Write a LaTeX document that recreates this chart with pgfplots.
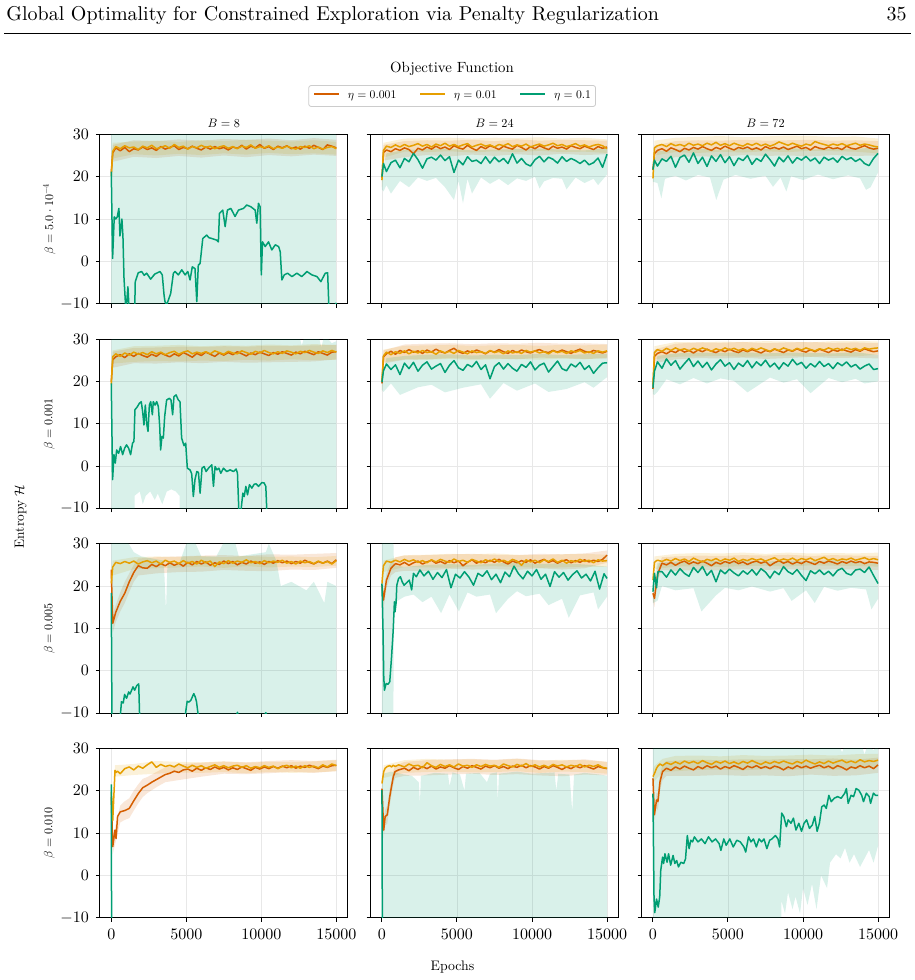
\RequirePackage{fix-cm}
\documentclass[border=0pt]{standalone}
\DeclareFontShape{OT1}{cmr}{m}{n}{<->cmr10}{}
\DeclareFontShape{OML}{cmm}{m}{it}{<->cmmi10}{}
\DeclareFontShape{OMS}{cmsy}{m}{n}{<->cmsy10}{}
\usepackage{pgfplots}
\usepackage{pgfplotstable}
\pgfplotsset{compat=1.18}
\definecolor{cO}{HTML}{D55E00}
\definecolor{cY}{HTML}{E69F00}
\definecolor{cG}{HTML}{009E73}
\pgfplotsset{
 panel/.style={
  scale only axis, width=123.8pt, height=84.7pt, anchor=north west,
  xmin=-750, xmax=15750, ymin=-10, ymax=30,
  xtick={0,5000,10000,15000}, ytick={-10,0,10,20,30},
  xmajorgrids, ymajorgrids,
  major grid style={black!9, line width=0.4pt},
  tick align=outside, tick pos=left, major tick length=2pt,
  axis line style={line width=0.5pt},
  major tick style={black, line width=0.5pt},
  tick label style={font=\fontsize{8}{9}\selectfont},
  xticklabel style={/pgf/number format/1000 sep={}},
  scaled x ticks=false, scaled y ticks=false,
 },
 nox/.style={xticklabels={}},
 noy/.style={yticklabels={}},
 ln/.style={forget plot, line width=0.75pt, line join=round},
 bd/.style={forget plot, draw=none, fill opacity=0.15},
}

% ---------- data: x, o = eta 0.001, y = eta 0.01, g = eta 0.1 ----------
\pgfplotstableread{
x o y
0 21.0 20.2
100 25.6 26.0
300 26.8 27.1
600 26.1 26.6
900 26.9 27.3
1200 25.9 26.8
1500 26.6 27.0
1800 26.3 26.4
2100 27.0 27.2
2400 26.4 26.8
2700 26.8 27.4
3000 26.2 26.6
3300 27.1 26.9
3600 26.5 27.3
3900 26.9 26.7
4200 27.3 27.6
4500 26.4 26.9
4800 26.9 27.2
5100 26.6 26.5
5400 27.2 27.1
5700 26.7 26.8
6000 26.3 27.4
6300 27.0 26.9
6600 26.5 27.2
6900 27.1 26.6
7200 26.6 27.0
7500 26.9 27.3
7800 26.3 26.7
8100 27.0 27.1
8400 26.7 26.6
8700 27.4 27.2
9000 26.5 26.9
9300 27.2 27.5
9600 26.8 26.7
9900 27.6 27.1
10200 26.7 26.8
10500 27.1 27.3
10800 26.4 26.6
11100 27.2 27.0
11400 26.8 26.7
11700 27.3 27.2
12000 26.6 26.8
12300 27.0 26.5
12600 26.5 27.1
12900 27.2 26.9
13200 26.7 27.3
13500 27.4 26.6
13800 26.9 27.0
14100 26.4 26.5
14400 27.5 26.9
14700 27.2 27.1
15000 26.8 26.6
}\tA
\pgfplotstableread{
x o y g
0 19.6 19.2 20.0
100 25.7 26.2 23.1
300 26.3 27.2 21.2
600 25.9 26.9 23.3
900 26.6 27.5 23.9
1200 26.2 27.0 22.1
1500 26.8 27.6 24.3
1800 26.4 27.1 23.5
2100 25.4 27.4 25.5
2400 26.7 27.8 24.0
2700 26.3 27.2 22.0
3000 27.0 27.6 24.2
3300 26.5 27.0 24.6
3600 27.2 27.7 23.9
3900 26.6 27.3 25.1
4200 27.0 27.9 23.8
4500 26.4 27.2 24.7
4800 27.3 27.6 21.0
5100 26.8 27.1 23.9
5400 26.5 27.5 22.8
5700 27.4 27.8 24.7
6000 26.7 27.0 23.6
6300 26.2 27.4 23.9
6600 27.1 27.7 23.1
6900 26.6 27.2 24.7
7200 27.3 27.5 23.2
7500 26.9 27.0 24.6
7800 26.4 27.6 23.5
8100 27.2 27.3 24.3
8400 26.8 27.8 23.1
8700 26.5 27.1 25.4
9000 27.4 27.5 23.2
9300 26.9 27.2 24.3
9600 26.3 27.7 23.0
9900 27.1 27.0 22.5
10200 26.6 27.4 24.0
10500 27.3 27.7 24.8
10800 26.8 27.2 23.5
11100 26.4 27.5 24.6
11400 27.2 27.9 24.1
11700 26.7 27.3 23.2
12000 27.0 27.6 24.7
12300 26.5 27.1 23.6
12600 27.3 27.4 24.3
12900 26.9 27.8 23.8
13200 26.6 27.2 23.1
13500 27.2 27.5 23.9
13800 26.8 27.0 22.8
14100 26.4 27.4 23.3
14400 27.1 27.6 24.4
14700 26.7 27.3 22.2
15000 27.0 26.6 25.3
}\tB
\pgfplotstableread{
x o y g
0 21.6 19.6 21.7
100 25.4 26.8 23.9
300 26.2 27.3 22.5
600 26.6 27.6 24.2
900 26.0 27.1 23.6
1200 26.8 27.8 24.8
1500 26.4 27.3 22.2
1800 25.9 27.6 24.5
2100 26.7 27.2 25.1
2400 26.3 27.9 23.4
2700 26.9 27.4 25.6
3000 26.5 27.7 23.1
3300 27.1 27.3 24.6
3600 26.6 27.9 22.4
3900 26.2 27.5 24.9
4200 26.9 28.1 23.6
4500 26.5 27.4 25.2
4800 27.2 27.8 23.3
5100 26.7 27.3 24.7
5400 26.3 27.9 22.6
5700 26.9 27.5 24.4
6000 26.6 27.2 23.8
6300 27.0 27.8 25.0
6600 26.4 27.4 22.9
6900 26.8 27.9 24.3
7200 26.3 27.3 23.6
7500 27.1 27.7 25.3
7800 26.6 27.2 24.0
8100 26.9 27.6 22.5
8400 26.5 28.2 24.6
8700 27.0 27.8 23.5
9000 26.4 27.4 24.9
9300 26.8 27.9 23.2
9600 27.2 27.5 24.5
9900 26.6 27.2 23.9
10200 26.9 27.7 24.8
10500 26.3 27.4 23.7
10800 27.1 28.3 24.4
11100 26.7 27.9 23.1
11400 26.5 27.6 24.6
11700 27.0 27.3 23.9
12000 26.6 27.7 24.4
12300 26.8 27.4 23.4
12600 26.4 27.8 24.8
12900 27.2 27.3 24.0
13200 26.7 27.6 24.5
13500 26.5 27.9 23.6
13800 26.9 27.4 24.2
14100 27.3 27.7 23.1
14400 26.8 27.5 22.6
14700 26.5 27.2 24.3
15000 26.7 27.0 25.5
}\tC
\pgfplotstableread{
x o y
0 19.8 19.3
100 25.1 25.8
300 25.8 26.5
600 26.3 25.9
900 25.6 26.7
1200 26.5 26.2
1500 25.9 26.9
1800 26.6 26.4
2100 26.1 26.8
2400 25.7 26.3
2700 26.4 27.0
3000 25.9 26.5
3300 26.7 26.9
3600 26.2 26.3
3900 25.8 26.8
4200 26.5 27.1
4500 26.0 26.4
4800 26.8 26.9
5100 26.3 27.2
5400 25.7 26.5
5700 26.6 26.9
6000 26.1 26.6
6300 26.9 27.0
6600 26.4 26.5
6900 25.9 27.2
7200 26.7 26.8
7500 26.2 26.4
7800 26.8 27.1
8100 26.3 26.7
8400 27.0 26.5
8700 26.5 27.2
9000 26.0 26.8
9300 26.7 26.4
9600 26.3 27.1
9900 26.9 26.7
10200 26.5 27.3
10500 26.1 26.8
10800 26.8 26.5
11100 26.4 27.0
11400 27.0 26.6
11700 26.6 27.2
12000 26.2 26.9
12300 26.9 26.5
12600 26.5 27.1
12900 27.1 26.8
13200 26.7 27.3
13500 26.3 26.9
13800 27.0 26.6
14100 26.6 27.2
14400 26.2 26.8
14700 26.9 27.3
15000 27.0 26.9
}\tD
\pgfplotstableread{
x o y g
0 19.5 20.1 19.8
100 25.8 26.0 22.5
300 26.5 26.9 24.1
600 27.1 26.3 22.8
900 26.4 27.0 23.9
1200 27.3 26.6 21.6
1500 26.8 27.2 24.3
1800 27.5 26.5 23.0
2100 26.9 27.1 24.5
2400 27.2 26.7 22.4
2700 26.6 27.3 23.8
3000 27.4 26.8 24.6
3300 26.9 27.0 22.9
3600 27.6 26.4 23.6
3900 27.0 27.2 24.2
4200 26.7 26.7 22.1
4500 27.3 27.1 23.8
4800 27.8 26.6 24.9
5100 27.0 27.3 23.2
5400 26.6 26.9 22.6
5700 27.2 26.5 24.0
6000 26.8 27.2 23.4
6300 27.4 26.8 24.7
6600 27.0 27.0 22.8
6900 26.5 26.6 23.9
7200 27.2 27.3 20.6
7500 26.9 26.8 23.5
7800 27.5 27.1 24.4
8100 27.0 26.5 22.9
8400 26.6 27.2 24.2
8700 27.3 26.7 23.1
9000 26.8 27.0 22.4
9300 27.4 26.6 24.0
9600 27.0 27.3 23.3
9900 26.7 26.9 24.6
10200 27.2 27.2 22.7
10500 27.5 26.7 23.8
10800 27.0 27.0 24.3
11100 26.8 26.5 22.2
11400 27.3 27.2 23.5
11700 26.9 26.8 24.8
12000 27.4 27.1 23.0
12300 27.0 26.6 22.5
12600 26.6 27.2 24.1
12900 27.2 26.9 23.4
13200 27.6 27.3 24.5
13500 27.1 26.7 22.8
13800 26.8 27.0 23.7
14100 27.3 26.6 21.9
14400 27.0 27.2 23.2
14700 26.7 26.9 24.3
15000 27.1 27.2 24.4
}\tE
\pgfplotstableread{
x o y g
0 18.2 19.4 18.5
100 25.9 26.8 22.4
300 26.6 27.5 24.6
600 27.0 27.1 23.1
900 26.5 27.8 25.3
1200 27.2 27.3 23.8
1500 26.8 27.9 24.9
1800 27.5 27.4 22.9
2100 26.9 27.7 24.2
2400 27.3 27.2 25.4
2700 26.7 27.8 23.5
3000 27.4 27.4 24.8
3300 27.0 27.9 23.3
3600 27.6 27.5 24.5
3900 27.1 27.1 22.7
4200 26.8 27.7 24.1
4500 27.4 27.3 25.1
4800 27.0 27.9 23.6
5100 27.6 27.4 24.4
5400 27.1 27.8 22.8
5700 26.8 27.3 24.3
6000 27.4 27.7 23.5
6300 27.0 27.2 24.9
6600 27.5 27.8 23.2
6900 27.1 27.4 24.6
7200 26.7 27.9 23.7
7500 27.3 27.5 25.0
7800 27.0 27.1 23.4
8100 27.6 27.7 24.3
8400 27.2 27.3 22.9
8700 26.8 27.9 24.4
9000 27.4 27.5 23.6
9300 27.1 27.2 25.2
9600 27.7 27.8 23.9
9900 27.2 27.4 24.5
10200 26.9 27.9 23.1
10500 27.5 27.5 24.2
10800 27.0 27.2 23.4
11100 27.6 27.7 24.7
11400 27.2 27.4 23.5
11700 26.8 27.9 24.2
12000 27.4 27.5 23.0
12300 27.1 27.8 24.4
12600 27.6 27.3 23.7
12900 27.2 27.9 24.6
13200 26.9 27.5 23.4
13500 27.5 27.8 24.0
13800 27.1 27.3 22.9
14100 27.7 27.9 23.6
14400 27.3 27.6 24.1
14700 27.0 27.8 22.8
15000 27.2 27.9 23.0
}\tF
\pgfplotstableread{
x o y
0 23.9 20.6
100 11.2 24.5
300 13.8 25.6
600 16.4 25.3
900 18.3 25.8
1200 21.0 25.4
1500 23.2 25.9
1800 24.8 25.2
2100 24.3 25.7
2400 24.2 26.0
2700 25.1 25.5
3000 24.6 25.9
3300 25.3 25.2
3600 24.8 26.1
3900 25.5 25.6
4200 24.9 25.9
4500 25.4 25.3
4800 24.7 26.0
5100 25.6 25.4
5400 25.0 25.8
5700 25.8 25.2
6000 25.2 26.1
6300 25.7 25.5
6600 24.9 25.9
6900 25.5 24.6
7200 25.1 25.7
7500 25.9 25.3
7800 25.3 26.0
8100 25.8 25.4
8400 25.0 25.9
8700 25.6 25.6
9000 25.2 26.2
9300 25.9 25.5
9600 25.4 25.8
9900 25.7 25.3
10200 25.1 26.0
10500 25.8 25.5
10800 25.4 25.9
11100 26.0 25.6
11400 25.5 26.1
11700 25.9 25.4
12000 25.3 25.8
12300 25.8 25.2
12600 25.4 25.9
12900 26.1 25.5
13200 25.6 25.8
13500 25.2 25.3
13800 25.8 25.9
14100 25.4 25.4
14400 25.9 25.8
14700 25.3 25.2
15000 26.2 26.0
}\tG
\pgfplotstableread{
x o y
0 20.2 20.6
100 16.7 24.8
300 21.4 25.9
600 24.2 25.6
900 25.3 26.1
1200 25.0 25.7
1500 25.6 26.3
1800 24.9 25.8
2100 25.5 26.2
2400 25.9 25.6
2700 25.2 26.0
3000 25.7 25.5
3300 26.1 26.2
3600 25.4 25.7
3900 25.8 26.3
4200 25.3 25.9
4500 26.0 25.6
4800 25.5 26.4
5100 25.9 25.8
5400 24.8 26.1
5700 25.6 25.6
6000 26.2 26.3
6300 25.4 25.9
6600 25.9 25.5
6900 25.5 26.2
7200 26.1 25.8
7500 25.6 26.4
7800 26.3 25.7
8100 25.7 26.1
8400 25.2 25.6
8700 25.9 26.3
9000 25.5 25.9
9300 26.0 24.9
9600 25.6 26.2
9900 26.2 25.7
10200 25.4 26.1
10500 25.9 25.5
10800 26.3 26.2
11100 25.6 25.8
11400 26.0 26.4
11700 25.4 25.6
12000 25.9 26.1
12300 26.2 25.4
12600 25.5 26.0
12900 26.0 25.7
13200 25.6 26.3
13500 26.2 25.8
13800 25.7 26.1
14100 26.1 25.5
14400 25.8 26.2
14700 26.3 25.9
15000 27.3 26.0
}\tH
\pgfplotstableread{
x o y g
0 18.3 21.4 18.7
100 17.1 25.6 23.0
240 21.0 26.0 19.6
330 23.0 26.1 23.4
600 25.4 25.8 23.4
900 25.0 26.3 22.1
1200 25.6 25.9 23.8
1500 24.9 26.5 22.6
1800 25.5 26.0 24.1
2100 25.9 26.4 23.0
2400 25.2 25.8 22.3
2700 25.7 26.6 24.4
3000 25.3 26.1 23.2
3300 25.9 25.7 24.6
3600 25.4 26.3 22.5
3900 24.8 26.0 23.7
4200 25.6 26.5 21.0
4500 25.2 25.9 23.8
4800 25.8 26.4 22.9
5100 25.4 26.1 24.0
5400 25.9 26.6 23.1
5700 25.3 25.8 22.4
6000 25.7 26.3 23.6
6300 25.1 26.0 22.8
6600 25.6 26.5 23.9
6900 25.9 26.1 22.6
7200 25.4 26.4 24.1
7500 25.8 25.9 23.3
7800 24.8 26.3 21.9
8100 25.5 26.7 23.5
8400 26.0 26.0 22.7
8700 25.4 26.4 24.6
9000 25.8 26.1 23.4
9300 25.2 26.6 22.8
9600 25.7 26.0 23.9
9900 25.3 26.5 22.5
10200 25.9 26.2 21.3
10500 25.5 26.6 23.6
10800 25.1 26.0 22.9
11100 25.8 26.4 23.8
11400 25.4 26.8 22.7
11700 25.9 26.1 23.5
12000 25.6 26.5 22.4
12300 25.2 26.0 23.7
12600 25.8 26.4 24.2
12900 25.4 26.2 23.0
13200 25.9 26.6 22.6
13500 25.5 26.1 23.8
13800 25.8 26.4 24.0
14100 25.3 26.7 23.2
14400 25.7 26.2 24.5
14700 25.6 26.5 22.5
15000 25.4 26.2 20.6
}\tI
\pgfplotstableread{
x o y
0 18.6 19.8
100 6.8 13.0
250 10.7 24.8
320 8.7 24.3
420 13.9 24.6
600 15.0 24.0
900 15.3 25.2
1200 15.8 25.6
1500 17.6 24.9
1800 19.3 25.8
2100 20.7 25.3
2400 21.3 26.1
2700 22.0 26.8
3000 22.6 25.5
3300 23.2 26.2
3600 23.8 25.7
3900 24.1 26.0
4200 24.6 25.6
4500 24.3 26.3
4800 24.9 25.8
5100 25.1 25.4
5400 24.6 26.0
5700 25.3 25.5
6000 24.8 25.9
6300 25.4 25.3
6600 25.0 25.7
6900 25.6 26.1
7200 25.1 25.5
7500 25.5 25.9
7800 24.9 25.4
8100 25.4 25.8
8400 25.0 26.0
8700 25.6 25.5
9000 25.2 25.9
9300 24.8 25.3
9600 25.5 25.7
9900 25.1 25.4
10200 25.6 25.9
10500 25.2 25.5
10800 25.7 25.8
11100 25.3 25.2
11400 25.8 25.7
11700 25.4 26.0
12000 25.9 25.4
12300 25.3 25.8
12600 25.8 25.3
12900 25.5 25.9
13200 26.0 25.5
13500 25.6 25.8
13800 25.2 25.4
14100 25.8 26.1
14400 25.5 25.6
14700 25.9 26.3
15000 26.0 25.9
}\tJ
\pgfplotstableread{
x o y
0 20.5 21.7
118 10.7 24.5
213 13.9 25.3
354 14.3 25.7
520 18.6 25.9
638 21.0 25.6
756 23.3 26.0
874 24.5 25.7
1110 24.9 26.1
1500 25.3 25.6
1800 24.7 26.3
2100 25.5 25.8
2400 25.0 26.0
2700 25.7 25.4
3000 25.2 26.6
3300 25.8 25.9
3600 25.1 25.5
3900 25.6 26.2
4200 25.3 25.7
4500 25.9 26.1
4800 25.4 25.6
5100 25.0 26.3
5400 25.7 25.8
5700 25.3 26.0
6000 25.9 25.5
6300 25.5 26.1
6600 25.1 25.7
6900 25.8 26.2
7200 25.4 25.8
7500 25.9 26.0
7800 25.3 25.5
8100 25.7 26.3
8400 25.2 25.9
8700 25.8 25.6
9000 25.5 26.2
9300 26.0 25.8
9600 25.4 26.4
9900 25.9 25.7
10200 25.6 26.1
10500 25.1 25.6
10800 25.7 26.0
11100 25.3 25.5
11400 25.9 26.2
11700 25.5 25.8
12000 25.0 26.1
12300 25.6 25.6
12600 25.2 26.0
12900 25.8 25.7
13200 25.4 26.2
13500 25.9 25.6
13800 25.5 26.0
14100 25.1 25.7
14400 25.7 26.1
14700 25.4 25.5
15000 25.2 25.3
}\tK
\pgfplotstableread{
x o y
0 22.9 23.3
95 14.3 24.0
240 17.8 25.3
330 17.4 25.8
470 22.1 26.3
640 24.5 25.9
900 25.3 26.6
1200 24.8 26.2
1500 25.6 26.8
1800 25.1 26.3
2100 25.8 27.0
2400 25.3 26.5
2700 24.9 26.9
3000 25.7 26.4
3300 25.2 27.1
3600 25.9 26.6
3900 25.4 26.2
4200 25.8 26.9
4500 25.1 26.5
4800 25.7 27.0
5100 25.3 26.4
5400 25.9 26.8
5700 25.5 26.3
6000 25.0 26.9
6300 25.8 26.5
6600 25.4 27.1
6900 25.9 26.6
7200 25.3 26.2
7500 25.7 26.8
7800 25.2 26.4
8100 25.8 26.9
8400 25.5 26.5
8700 24.9 27.0
9000 25.6 26.6
9300 25.2 26.3
9600 25.9 26.9
9900 25.4 26.5
10200 25.8 27.2
10500 25.3 26.7
10800 25.7 26.3
11100 26.0 26.8
11400 25.4 26.4
11700 25.8 27.0
12000 25.2 26.5
12300 25.9 26.9
12600 25.5 27.2
12900 24.9 26.6
13200 25.6 27.0
13500 25.3 26.6
13800 25.9 27.3
14100 25.4 26.8
14400 25.8 27.1
14700 25.2 26.9
15000 26.1 27.2
}\tL

\begin{document}
\begin{tikzpicture}
\useasboundingbox (0,0) rectangle (457.5pt,-490pt);

% header
\node[anchor=base west, inner sep=0, font=\fontsize{10}{12}\selectfont] at (3pt,-10.3pt) {Global Optimality for Constrained Exploration via Penalty Regularization};
\node[anchor=base east, inner sep=0, font=\fontsize{10}{12}\selectfont] at (453.5pt,-10.3pt) {35};
\draw[line width=0.4pt] (2pt,-16.7pt) -- (455.5pt,-16.7pt);
\node at (226pt,-34.2pt) {\scalebox{0.74}{Objective Function}};

% column titles
\node at (111.9pt,-61.65pt) {\scalebox{0.61}{$B=8$}};
\node at (247.25pt,-61.65pt) {\scalebox{0.61}{$B=24$}};
\node at (382.75pt,-61.65pt) {\scalebox{0.61}{$B=72$}};

% row labels
\node[rotate=90] at (24.65pt,-109.5pt) {\scalebox{0.6}{$\beta=5.0\cdot10^{-4}$}};
\node[rotate=90] at (24.65pt,-211.85pt) {\scalebox{0.6}{$\beta=0.001$}};
\node[rotate=90] at (24.65pt,-314.2pt) {\scalebox{0.6}{$\beta=0.005$}};
\node[rotate=90] at (24.65pt,-416.5pt) {\scalebox{0.6}{$\beta=0.010$}};
\node[rotate=90] at (10.35pt,-258.25pt) {\scalebox{0.67}{Entropy $\mathcal{H}$}};
\node at (226.25pt,-483.5pt) {\scalebox{0.69}{Epochs}};

% ================= row 1 =================
\begin{axis}[panel, nox, at={(50pt,-67.15pt)},
  legend columns=3,
  legend style={at={(1.4222,1.2261)}, anchor=center, draw=black!20, rounded corners=1.2pt, fill=white,
    font=\fontsize{5.85}{7}\selectfont, inner xsep=2.3pt, inner ysep=2.6pt,
    nodes={inner sep=0pt},
    /tikz/every odd column/.append style={column sep=4pt},
    /tikz/every even column/.append style={column sep=11.5pt}},
  legend image code/.code={\draw[#1] (0pt,0.2ex) -- (12.5pt,0.2ex);}]
\addlegendimage{cO, line width=0.8pt}\addlegendentry{$\eta=0.001$}
\addlegendimage{cY, line width=0.8pt}\addlegendentry{$\eta=0.01$}
\addlegendimage{cG, line width=0.8pt}\addlegendentry{$\eta=0.1$}
\addplot[bd, fill=cO] coordinates {(0,23)(100,27.5)(1500,28.6)(3000,28.4)(4500,28.8)(6000,28.5)(7500,28.9)(9000,28.7)(10500,29.0)(12000,28.6)(13500,29.1)(15000,28.7)(15000,24.9)(13500,25.2)(12000,24.8)(10500,25.1)(9000,24.6)(7500,25.0)(6000,24.5)(4500,24.9)(3000,24.4)(1500,24.7)(100,23.5)(0,19)};
\addplot[bd, fill=cY] coordinates {(0,22)(100,28)(1500,28.3)(3000,28.5)(4500,28.2)(6000,28.6)(7500,28.4)(9000,28.7)(10500,28.5)(12000,28.3)(13500,28.6)(15000,28.2)(15000,25.2)(13500,25.5)(12000,25.3)(10500,25.6)(9000,25.2)(7500,25.5)(6000,25.1)(4500,25.4)(3000,25.0)(1500,25.3)(100,24.3)(0,18.5)};
\addplot[bd, fill=cG] coordinates {(0,-30)(0,31)(15000,31)(15000,-30)};
\addplot[ln, cO] table[x=x,y=o] {\tA};
\addplot[ln, cY] table[x=x,y=y] {\tA};
\addplot[ln, cG] coordinates {(0,21.2)(90,0.7)(200,10.5)(300,10.0)(400,10.5)(510,12.5)(580,6.0)(710,10.0)(780,5.8)(850,-4.0)(980,-12)(1110,-6.0)(1200,-12)(1560,-12)(1600,-4.8)(1800,-2.7)(2025,-2.4)(2200,-3.3)(2360,-2.8)(2625,-4.2)(2900,-3.0)(3250,-2.4)(3400,-3.2)(3520,-8.0)(3580,-9.5)(3690,-10.3)(3960,-7.6)(4140,-2.8)(4250,-2.4)(4470,-3.2)(4700,-2.0)(4920,-3.2)(5100,-2.4)(5250,-4.4)(5400,-1.3)(5580,-1.7)(5700,-9.5)(5800,-0.9)(5920,-0.5)(6100,5.4)(6360,6.2)(6500,5.6)(6700,5.4)(7030,5.0)(7140,4.6)(7210,11.3)(7430,12.1)(7590,8.2)(7740,12.1)(7970,12.5)(8250,10.6)(8480,12.1)(8810,12.5)(9030,13.3)(9300,12.9)(9590,12.1)(9700,9.0)(9810,13.7)(9920,12.9)(10000,-3.2)(10080,4.6)(10260,3.5)(10480,4.6)(10700,2.7)(10930,3.9)(11150,3.5)(11260,2.3)(11370,-4.4)(11530,-3.2)(11750,-2.8)(12040,-3.6)(12370,-2.8)(12700,-3.6)(13040,-2.4)(13370,-3.2)(13710,-3.6)(13970,-4.8)(14260,-2.8)(14420,-2.7)(14500,-10.5)(14800,-11)(15000,-9.8)};
\end{axis}

\begin{axis}[panel, nox, noy, at={(185.35pt,-67.15pt)}]
\addplot[bd, fill=cO] coordinates {(0,21)(100,27.5)(1500,28.4)(3000,28.6)(4500,28.5)(6000,28.7)(7500,28.4)(9000,28.8)(10500,28.5)(12000,28.7)(13500,28.6)(15000,28.5)(15000,25.3)(13500,25.1)(12000,25.4)(10500,25.0)(9000,25.3)(7500,24.9)(6000,25.2)(4500,24.8)(3000,25.1)(1500,24.6)(100,23.8)(0,17.5)};
\addplot[bd, fill=cY] coordinates {(0,21)(100,28)(1500,29)(3000,29.1)(4500,29.2)(6000,29)(7500,29.2)(9000,29.1)(10500,29.3)(12000,29)(13500,29.2)(15000,28.8)(15000,25.6)(13500,25.9)(12000,25.8)(10500,26.1)(9000,25.8)(7500,26.0)(6000,25.7)(4500,26.0)(3000,25.8)(1500,25.9)(100,24.5)(0,17.5)};
\addplot[bd, fill=cG] coordinates {(0,21)(300,25.5)(1500,26.3)(3000,26.5)(4500,26.6)(6000,26.2)(7500,26.4)(9000,26.5)(10500,26.6)(12000,26.4)(13500,26.2)(15000,26.8)(15000,20.5)(14400,18)(14100,19.5)(13500,18.5)(12900,19.8)(12300,17)(12000,19.5)(11400,19.7)(10800,18.9)(10500,17.2)(10200,20)(9600,19)(9000,19.6)(8400,18)(7800,19.5)(7200,18.3)(6600,19.8)(6000,16)(5700,19.5)(5400,13.7)(5100,19.0)(4800,14.5)(4200,17.5)(3600,19.7)(3000,19)(2400,19.8)(1800,17.5)(1200,19)(600,16)(300,18)(100,16.5)(0,17)};
\addplot[ln, cO] table[x=x,y=o] {\tB};
\addplot[ln, cY] table[x=x,y=y] {\tB};
\addplot[ln, cG] table[x=x,y=g] {\tB};
\end{axis}

\begin{axis}[panel, nox, noy, at={(320.85pt,-67.15pt)}]
\addplot[bd, fill=cO] coordinates {(0,23.5)(100,27.3)(1500,28.4)(3000,28.6)(4500,28.5)(6000,28.7)(7500,28.5)(9000,28.6)(10500,28.7)(12000,28.5)(13500,28.6)(15000,28.4)(15000,25)(13500,24.9)(12000,25.1)(10500,24.8)(9000,25.0)(7500,24.9)(6000,25.1)(4500,24.7)(3000,24.8)(1500,24.6)(100,23.5)(0,19.7)};
\addplot[bd, fill=cY] coordinates {(0,21.5)(100,28.5)(1500,29.2)(3000,29.4)(4500,29.6)(6000,29.3)(7500,29.5)(9000,29.7)(10500,29.6)(12000,29.4)(13500,29.5)(15000,29.0)(15000,25.5)(13500,25.9)(12000,26)(10500,26.1)(9000,25.8)(7500,26.0)(6000,25.7)(4500,25.9)(3000,25.6)(1500,25.8)(100,25)(0,17.7)};
\addplot[bd, fill=cG] coordinates {(0,23)(300,26)(1500,26.4)(3000,26.6)(4500,26.3)(6000,26.7)(7500,26.5)(9000,26.8)(10500,26.4)(12000,26.6)(13500,26.5)(15000,27.0)(15000,21)(14500,17.5)(14200,16.9)(13800,19.6)(13000,20.3)(12000,19.4)(11000,20.5)(10000,19.2)(9200,20.1)(8890,16.5)(8500,19.8)(8000,17.6)(7500,20.2)(6500,19.5)(5500,20.4)(4700,19.3)(4220,14.5)(3800,19.8)(3000,20.4)(2200,19.1)(1500,20.2)(800,19.5)(560,14.9)(300,18.5)(0,18.8)};
\addplot[ln, cO] table[x=x,y=o] {\tC};
\addplot[ln, cY] table[x=x,y=y] {\tC};
\addplot[ln, cG] table[x=x,y=g] {\tC};
\end{axis}

% ================= row 2 =================
\begin{axis}[panel, nox, at={(50pt,-169.5pt)}]
\addplot[bd, fill=cO] coordinates {(0,21.5)(100,27)(1500,27.9)(3000,28.0)(4500,28.2)(6000,28.1)(7500,28.3)(9000,28.2)(10500,28.4)(12000,28.3)(13500,28.5)(15000,28.6)(15000,25.2)(13500,24.7)(12000,24.6)(10500,24.5)(9000,24.4)(7500,24.6)(6000,24.3)(4500,24.5)(3000,24.2)(1500,24.3)(100,23.2)(0,18)};
\addplot[bd, fill=cY] coordinates {(0,21)(100,27.3)(1500,28.3)(3000,28.4)(4500,28.6)(6000,28.3)(7500,28.5)(9000,28.4)(10500,28.7)(12000,28.5)(13500,28.8)(15000,28.6)(15000,25.1)(13500,25)(12000,25.2)(10500,24.9)(9000,25.1)(7500,24.8)(6000,24.9)(4500,24.7)(3000,24.8)(1500,24.6)(100,24.2)(0,17.5)};
\addplot[bd, fill=cG] coordinates {(0,31)(12500,31)(12700,28.5)(12900,31)(13800,31)(14000,28)(14200,31)(14700,29)(15000,29.5)(15000,-30)(4600,-30)(4550,-7)(4300,-6)(4000,-5.5)(3700,-6)(3400,-9)(3100,-6.5)(2900,-8)(2600,-6)(2300,-7)(2100,-9)(1900,-6)(1560,-7)(1500,-30)(0,-30)};
\addplot[ln, cO] table[x=x,y=o] {\tD};
\addplot[ln, cY] table[x=x,y=y] {\tD};
\addplot[ln, cG] coordinates {(0,19.5)(90,-3.2)(180,2.7)(270,0.7)(360,3.8)(490,3.0)(620,4.6)(760,2.7)(890,4.2)(1020,5.0)(1160,4.2)(1290,2.7)(1420,5.4)(1510,5.8)(1580,13.3)(1740,14.0)(1870,14.8)(2000,15.2)(2090,12.9)(2180,9.7)(2270,14.4)(2360,10.1)(2450,8.2)(2540,14.4)(2630,15.2)(2740,12.1)(2800,15.2)(2920,14.4)(3030,15.2)(3140,14.0)(3230,9.3)(3290,3.8)(3380,7.0)(3470,6.6)(3560,11.7)(3690,15.6)(3870,16.0)(3980,15.6)(4090,12.1)(4180,16.4)(4320,16.8)(4470,15.6)(4580,15.2)(4690,6.6)(4850,4.8)(4960,5.4)(5070,-0.5)(5250,-0.9)(5360,-1.8)(5470,-7.2)(5580,-3.2)(5700,-1.3)(5810,-1.5)(5920,-6.4)(6050,-0.5)(6190,-0.1)(6320,-1.3)(6480,-0.5)(6590,-0.1)(6700,0.3)(6810,-4.8)(6920,-0.1)(7040,-0.9)(7170,-0.5)(7300,-1.7)(7480,-0.5)(7700,-1.3)(7920,-0.9)(8150,-1.3)(8320,-0.7)(8410,-1.7)(8500,-10.3)(8630,-11)(8770,-6.4)(8860,-7.2)(8970,-4.8)(9080,-6.8)(9210,-4.4)(9370,-5.2)(9520,-4.3)(9660,-4.2)(9810,-4.8)(10040,-3.9)(10190,-4.0)(10300,-4.8)(10370,-11)(10600,-25)(15000,-25)};
\end{axis}

\begin{axis}[panel, nox, noy, at={(185.35pt,-169.5pt)}]
\addplot[bd, fill=cO] coordinates {(0,21.5)(100,27.3)(1500,28.7)(3000,28.9)(4500,29)(6000,28.8)(7500,29)(9000,28.9)(10500,29.1)(12000,28.9)(13500,29.0)(15000,28.8)(15000,25.4)(13500,25.3)(12000,25.5)(10500,25.6)(9000,25.2)(7500,25.4)(6000,25.3)(4500,25.5)(3000,25.2)(1500,25.1)(100,24.2)(0,17.5)};
\addplot[bd, fill=cY] coordinates {(0,22)(100,27.5)(1500,28.4)(3000,28.5)(4500,28.6)(6000,28.4)(7500,28.5)(9000,28.6)(10500,28.4)(12000,28.6)(13500,28.5)(15000,28.7)(15000,25.6)(13500,25.2)(12000,25.4)(10500,25.1)(9000,25.3)(7500,25.2)(6000,25.0)(4500,25.3)(3000,25.1)(1500,25.2)(100,24.5)(0,18)};
\addplot[bd, fill=cG] coordinates {(0,21)(300,25.5)(1500,26)(3000,26.3)(4500,26.4)(6000,26.1)(7500,26.3)(9000,26.2)(10500,26.5)(12000,26.2)(13500,26.4)(15000,26.5)(15000,21)(14100,18.5)(13500,19.8)(12300,18.2)(11100,17.5)(10200,19.5)(9000,17.8)(8100,19.6)(7200,15.9)(6600,19.3)(5400,18.5)(4200,17.4)(3300,19.2)(2400,18.6)(1200,16.8)(600,19.5)(100,17.5)(0,18)};
\addplot[ln, cO] table[x=x,y=o] {\tE};
\addplot[ln, cY] table[x=x,y=y] {\tE};
\addplot[ln, cG] table[x=x,y=g] {\tE};
\end{axis}

\begin{axis}[panel, nox, noy, at={(320.85pt,-169.5pt)}]
\addplot[bd, fill=cO] coordinates {(0,20.5)(100,27.5)(1500,28.9)(3000,29.2)(4500,29.1)(6000,29.3)(7500,29.0)(9000,29.2)(10500,29.3)(12000,29.1)(13500,29.2)(15000,29.0)(15000,25.4)(13500,25.6)(12000,25.5)(10500,25.8)(9000,25.5)(7500,25.3)(6000,25.6)(4500,25.4)(3000,25.5)(1500,25.2)(100,24.3)(0,16)};
\addplot[bd, fill=cY] coordinates {(0,21.5)(100,28.3)(1500,29.3)(3000,29.2)(4500,29.4)(6000,29.3)(7500,29.5)(9000,29.4)(10500,29.2)(12000,29.5)(13500,29.6)(15000,29.4)(15000,26.3)(13500,25.9)(12000,26.0)(10500,25.8)(9000,26.1)(7500,25.9)(6000,25.8)(4500,26.0)(3000,25.9)(1500,25.8)(100,25.2)(0,17.5)};
\addplot[bd, fill=cG] coordinates {(0,20.5)(300,26)(1500,26.6)(3000,26.8)(4500,26.7)(6000,26.9)(7500,26.6)(9000,26.8)(10500,26.7)(12000,26.6)(13500,26.9)(15000,26.2)(15000,20)(14100,19.5)(13500,20.6)(12600,19.8)(11700,20.8)(10500,17.2)(9600,20.5)(8700,19.7)(7800,20.9)(6300,17.4)(5400,20.1)(4500,20.7)(3600,19.5)(2700,20.8)(1800,19.3)(900,20.5)(300,17.5)(100,16.8)(0,17)};
\addplot[ln, cO] table[x=x,y=o] {\tF};
\addplot[ln, cY] table[x=x,y=y] {\tF};
\addplot[ln, cG] table[x=x,y=g] {\tF};
\end{axis}

% ================= row 3 =================
\begin{axis}[panel, nox, at={(50pt,-271.85pt)}]
\addplot[bd, fill=cO] coordinates {(0,25.5)(100,13.5)(300,15.5)(600,18.5)(900,21)(1200,23)(1500,25)(1800,26.5)(3000,26.8)(4500,27)(6000,27.2)(7500,27.3)(9000,27.1)(10500,27.5)(12000,27.4)(13500,27.6)(15000,27.8)(15000,24.3)(13500,23.8)(12000,23.9)(10500,23.5)(9000,23.6)(7500,23.8)(6000,23.4)(4500,23.3)(3000,23)(1800,22.5)(1500,21)(1200,18.6)(900,16)(600,14)(300,11.5)(100,9)(0,22)};
\addplot[bd, fill=cY] coordinates {(0,22)(100,26)(1500,26.8)(3000,27)(4500,26.9)(6000,27.1)(7500,26.8)(9000,27.1)(10500,26.9)(12000,27)(13500,26.8)(15000,27.1)(15000,24.8)(13500,24.5)(12000,24.6)(10500,24.4)(9000,24.7)(7500,24.3)(6000,24.6)(4500,24.4)(3000,24.2)(1500,24)(100,22.5)(0,19)};
\addplot[bd, fill=cG] coordinates {(0,30)(300,31)(1000,31)(1500,28)(2000,27)(3500,26)(3650,14)(3750,26)(4500,25)(5000,30)(5500,31)(6000,27)(7000,27)(7600,31)(8200,31)(8500,27)(10300,28)(10500,30)(11000,26)(11300,20)(12000,21)(13000,19)(13500,21)(14200,16)(14400,21)(15000,20)(15000,-30)(0,-30)};
\addplot[ln, cO] table[x=x,y=o] {\tG};
\addplot[ln, cY] table[x=x,y=y] {\tG};
\addplot[ln, cG] coordinates {(0,18.4)(60,-20)(300,-14)(620,-10)(680,-7.3)(800,-7.6)(890,-5.6)(1020,-6.5)(1160,-5)(1250,-5.5)(1450,-3.8)(1560,-4.6)(1700,-3.5)(1830,-3.1)(1900,-12)(2500,-25)(4800,-15)(4950,-10)(5060,-7.2)(5170,-7.4)(5300,-7)(5500,-5.4)(5600,-6.2)(5680,-7.3)(5850,-12)(6500,-20)(8300,-11)(8410,-9.8)(8500,-11)(10200,-10.6)(10300,-9.9)(10400,-11)(12000,-25)(15000,-25)};
\end{axis}

\begin{axis}[panel, nox, noy, at={(185.35pt,-271.85pt)}]
\addplot[bd, fill=cO] coordinates {(0,22)(100,18.5)(300,23)(600,25.7)(900,26.8)(1500,27.2)(3000,27.3)(4500,27.5)(6000,27.6)(7500,27.4)(9000,27.3)(10500,27.6)(12000,27.5)(13500,27.7)(15000,28.4)(15000,25.5)(13500,24.2)(12000,23.9)(10500,24.2)(9000,23.8)(7500,24)(6000,23.9)(4500,24.1)(3000,23.6)(1500,23.6)(900,23.3)(600,22.5)(300,19.5)(100,14.5)(0,18.5)};
\addplot[bd, fill=cY] coordinates {(0,22)(100,26)(1500,27.3)(3000,27.4)(4500,27.6)(6000,27.5)(7500,27.7)(9000,27.4)(10500,27.3)(12000,27.5)(13500,27.6)(15000,27.4)(15000,24.5)(13500,24.6)(12000,24.4)(10500,24.3)(9000,24.5)(7500,24.7)(6000,24.6)(4500,24.3)(3000,24.4)(1500,24.5)(100,23.3)(0,19)};
\addplot[bd, fill=cG] coordinates {(0,31)(760,31)(800,25)(1500,24.5)(3000,25)(4500,25.2)(6000,25)(7500,25.3)(9000,25.6)(10500,25.2)(12000,25.4)(13500,25.1)(15000,24.6)(15000,17.5)(14400,14.5)(14100,18.5)(13200,17.8)(12450,12.5)(12000,17)(11100,15.5)(10500,18.2)(9600,17.6)(9000,18.8)(8400,17)(7600,13.6)(7200,18)(6300,17.5)(5700,18.5)(5130,14)(4500,18)(3940,13.6)(3300,17.5)(2700,16.2)(2100,18)(1500,17.5)(800,16)(760,-11)(0,-11)};
\addplot[ln, cO] table[x=x,y=o] {\tH};
\addplot[ln, cY] table[x=x,y=y] {\tH};
\addplot[ln, cG] coordinates {(0,20.6)(70,9.6)(120,-1.4)(165,-4.6)(280,-3.0)(400,-3.2)(520,-2.6)(640,3.3)(750,9.6)(830,16.3)(870,13.9)(940,16.0)(990,20.2)(1110,21.8)(1230,22.2)(1350,21.0)(1470,20.2)(1590,20.6)(1820,21.4)(1980,19.1)(2100,23.0)(2290,22.2)(2530,23.8)(2800,22.4)(3100,23.5)(3400,21.6)(3700,23.2)(4000,22.0)(4300,23.9)(4600,19.6)(4900,22.8)(5200,21.9)(5500,23.4)(5800,22.1)(6100,20.2)(6400,23.0)(6700,22.3)(7000,23.6)(7300,21.5)(7600,22.8)(7900,20.8)(8200,23.3)(8500,22.2)(8800,24.7)(9100,22.9)(9400,21.7)(9700,23.5)(10000,22.4)(10300,23.9)(10600,21.6)(10900,22.8)(11200,19.9)(11500,23.4)(11800,22.1)(12100,23.2)(12400,21.4)(12700,22.7)(13000,23.6)(13300,21.9)(13600,22.8)(13900,21.2)(14200,23.5)(14500,19.3)(14800,22.9)(15000,21.8)};
\end{axis}

\begin{axis}[panel, nox, noy, at={(320.85pt,-271.85pt)}]
\addplot[bd, fill=cO] coordinates {(0,20)(100,19)(300,24.5)(600,26.8)(1500,27)(3000,27.2)(4500,27.1)(6000,27.3)(7500,27.2)(9000,27.4)(10500,27.1)(12000,27.3)(13500,27.2)(15000,27.1)(15000,23.8)(13500,23.9)(12000,24)(10500,23.7)(9000,24)(7500,23.8)(6000,24)(4500,23.7)(3000,23.8)(1500,23.6)(600,23.8)(300,21.3)(100,15)(0,16.5)};
\addplot[bd, fill=cY] coordinates {(0,23)(100,27)(1500,27.6)(3000,27.8)(4500,27.7)(6000,27.9)(7500,27.6)(9000,27.9)(10500,27.7)(12000,27.8)(13500,27.7)(15000,27.9)(15000,24.6)(13500,24.7)(12000,24.8)(10500,24.9)(9000,24.6)(7500,24.8)(6000,24.7)(4500,24.5)(3000,24.7)(1500,24.6)(100,24)(0,19.5)};
\addplot[bd, fill=cG] coordinates {(0,21)(300,25.5)(1500,25.8)(3000,26)(4500,25.9)(6000,26.1)(7500,25.8)(9000,26)(10500,25.9)(12000,26.1)(13500,25.9)(15000,25.5)(15000,17)(14560,14.5)(14200,19.2)(13200,19.6)(12300,18.9)(11400,19.8)(10780,16)(10200,19)(9240,16.5)(8700,19.5)(7800,18.7)(6600,19.9)(5700,19)(4800,19.6)(4200,17.8)(3230,14)(2700,19.5)(1500,19)(600,20)(300,16.5)(0,16)};
\addplot[ln, cO] table[x=x,y=o] {\tI};
\addplot[ln, cY] table[x=x,y=y] {\tI};
\addplot[ln, cG] table[x=x,y=g] {\tI};
\end{axis}

% ================= row 4 =================
\begin{axis}[panel, at={(50pt,-374.15pt)}]
\addplot[bd, fill=cO] coordinates {(0,20)(100,8.5)(300,12)(600,16.5)(900,17.5)(1200,18.2)(1500,20)(1800,21.5)(2100,22.8)(2400,23.2)(3000,24.4)(3600,25.5)(4500,26.2)(6000,26.6)(7500,26.9)(9000,26.7)(10500,27)(12000,27.2)(13500,27)(15000,27.3)(15000,24.6)(13500,24.2)(12000,24.5)(10500,24.1)(9000,23.9)(7500,24.0)(6000,23.3)(4500,22.5)(3600,22)(3000,20.8)(2400,19.4)(2100,18.5)(1800,17)(1500,15.3)(1200,13.5)(900,13.1)(600,12.5)(300,8)(100,5)(0,17)};
\addplot[bd, fill=cY] coordinates {(0,21)(100,14)(250,26)(1500,26.3)(3000,27)(4500,26.8)(6000,26.7)(7500,26.9)(9000,26.6)(10500,26.8)(12000,26.7)(13500,26.9)(15000,27.2)(15000,24.6)(13500,24.3)(12000,24.2)(10500,24.4)(9000,24.1)(7500,24.4)(6000,24.2)(4500,24.3)(3000,24)(1500,23.7)(250,23.3)(100,11)(0,18.5)};
\addplot[ln, cO] table[x=x,y=o] {\tJ};
\addplot[ln, cY] table[x=x,y=y] {\tJ};
\addplot[ln, cG] coordinates {(0,21.5)(40,-40)(15000,-40)};
\end{axis}

\begin{axis}[panel, noy, at={(185.35pt,-374.15pt)}]
\addplot[bd, fill=cO] coordinates {(0,22)(118,12.5)(213,15.5)(354,16.5)(520,20.5)(638,22.5)(756,24.6)(874,25.8)(1500,26.8)(3000,27.2)(4500,27.4)(6000,27.5)(7500,27.3)(9000,27.6)(10500,27.2)(12000,27.1)(13500,27.4)(15000,26.8)(15000,23.6)(13500,23.8)(12000,23.4)(10500,23.6)(9000,23.9)(7500,23.7)(6000,24.0)(4500,23.8)(3000,23.6)(1500,23.5)(874,23)(756,21.5)(638,19)(520,16.5)(354,12.2)(213,11.8)(118,8.8)(0,19)};
\addplot[bd, fill=cY] coordinates {(0,23)(118,26)(1500,27.2)(3000,27.5)(4500,27.3)(6000,27.4)(7500,27.2)(9000,27.5)(10500,27.1)(12000,27.3)(13500,27.2)(15000,26.8)(15000,24)(13500,24.4)(12000,24.5)(10500,24.2)(9000,24.6)(7500,24.4)(6000,24.3)(4500,24.5)(3000,24.4)(1500,24.2)(118,23)(0,20.5)};
\addplot[bd, fill=cG] coordinates {(0,21)(100,24)(600,24.5)(1200,24)(2000,23.5)(2450,22)(2530,17)(2600,23.5)(3500,24.2)(4400,24)(4500,21)(4700,24.3)(5200,23.8)(5500,20)(5600,24)(6500,24.2)(7000,22)(7200,24)(7650,24.3)(7720,17.5)(7800,24)(9000,24.5)(10000,24)(11500,24.3)(11620,20)(11750,24)(12500,23.8)(12680,15)(12800,23.8)(13500,24.2)(14500,23.8)(15000,23.5)(15000,-30)(0,-30)};
\addplot[ln, cO] table[x=x,y=o] {\tK};
\addplot[ln, cY] table[x=x,y=y] {\tK};
\addplot[ln, cG] coordinates {(0,20.1)(50,-40)(15000,-40)};
\end{axis}

\begin{axis}[panel, noy, at={(320.85pt,-374.15pt)}]
\addplot[bd, fill=cO] coordinates {(0,24.5)(95,16)(240,19.5)(330,19.5)(470,24)(640,26.2)(900,27)(3000,27.3)(4500,27.2)(6000,27.4)(7500,27.3)(9000,27.5)(10500,27.4)(12000,27.6)(13500,27.3)(15000,27.8)(15000,24.2)(13500,23.6)(12000,23.5)(10500,23.8)(9000,23.4)(7500,23.6)(6000,23.5)(4500,23.7)(3000,23.5)(900,23.5)(640,22.5)(470,20)(330,15.3)(240,16)(95,12.5)(0,21)};
\addplot[bd, fill=cY] coordinates {(0,25)(95,25.8)(640,27.5)(1500,28.2)(3000,28.3)(4500,28.1)(6000,28.4)(7500,28.2)(9000,28.3)(10500,28.5)(12000,28.3)(13500,28.6)(15000,28.7)(15000,25.6)(13500,25.1)(12000,25)(10500,25.2)(9000,24.9)(7500,25.1)(6000,24.8)(4500,25)(3000,24.9)(1500,24.6)(640,24.3)(95,22.3)(0,21.5)};
\addplot[bd, fill=cG] coordinates {(0,31)(12400,31)(12600,29)(12800,31)(13900,31)(14100,28.5)(14300,31)(14700,29.5)(15000,31)(15000,7)(14700,3)(14400,6)(14100,4)(13800,2)(13400,5)(13100,3)(12800,6.5)(12500,4)(12200,5)(11800,3)(11600,-3)(11200,0)(10900,-8)(10600,-2)(10300,-7)(10000,-3)(9800,-9)(9500,-5)(9300,-8)(9000,-4)(8800,-9)(8560,-6)(8550,-30)(0,-30)};
\addplot[ln, cO] table[x=x,y=o] {\tL};
\addplot[ln, cY] table[x=x,y=y] {\tL};
\addplot[ln, cG] coordinates {(0,19.3)(70,-5)(120,-8.8)(240,-5.6)(350,-7.5)(450,-5.1)(520,1.2)(640,4.3)(710,2.8)(800,5.1)(940,3.1)(1040,5.1)(1180,2.4)(1340,4.7)(1460,2.8)(1580,3.5)(1700,2.0)(1860,3.1)(2050,2.8)(2170,3.9)(2290,9.4)(2410,6.3)(2520,8.3)(2640,7.9)(2760,9.1)(3000,7.9)(3230,8.6)(3470,7.5)(3700,9.1)(3940,7.9)(4170,8.6)(4410,7.5)(4530,5.9)(4720,8.6)(4880,7.1)(5120,8.6)(5350,6.7)(5590,8.3)(5820,7.9)(6060,6.7)(6180,5.5)(6370,9.1)(6530,7.9)(6700,8.6)(6890,6.7)(7070,8.6)(7240,7.9)(7400,8.6)(7590,6.3)(7780,8.3)(7930,8.6)(8160,9.4)(8330,8.6)(8440,6.7)(8580,14.7)(8720,13.9)(8890,11.5)(9010,13.1)(9200,12.3)(9360,13.5)(9530,10.7)(9720,12.3)(9900,10.4)(10070,12.3)(10240,13.1)(10430,11.1)(10620,11.9)(10780,13.9)(10940,10.4)(11090,12.3)(11250,16.2)(11410,16.6)(11550,15.8)(11720,18.9)(11880,17.4)(12080,18.2)(12310,18.6)(12540,18.2)(12780,19.4)(12890,20.5)(13010,17.0)(13200,18.9)(13370,18.6)(13540,20.5)(13720,20.1)(13910,18.9)(14030,17.4)(14220,19.4)(14410,18.6)(14500,17.0)(14690,19.4)(14830,18.9)(15000,18.9)};
\end{axis}
\end{tikzpicture}
\end{document}
